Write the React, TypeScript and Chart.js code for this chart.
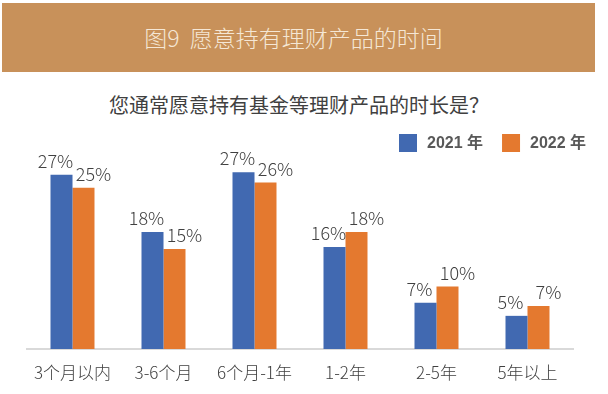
import React, { useEffect, useRef } from "react";
import { Chart, registerables } from "chart.js";

Chart.register(...registerables);

const headerTitle = "图9  愿意持有理财产品的时间";
const subTitle = "您通常愿意持有基金等理财产品的时长是？";
const categories = ["3个月以内", "3-6个月", "6个月-1年", "1-2年", "2-5年", "5年以上"];
const seriesNames = ["2021 年", "2022 年"];
const values2021 = [26.8, 18.0, 27.2, 15.7, 7.1, 5.1];
const values2022 = [24.8, 15.4, 25.6, 18.0, 9.6, 6.6];
const seriesColors = ["#4169B1", "#E4792F"];

const CJK = "'Noto Sans CJK SC', 'Noto Sans', sans-serif";

const labelPlugin = {
  id: "barLabels",
  afterDatasetsDraw(chart: any) {
    const ctx = chart.ctx;
    ctx.save();
    ctx.font = `300 18px ${CJK}`;
    ctx.fillStyle = "#404040";
    ctx.textAlign = "center";
    ctx.textBaseline = "alphabetic";
    const shifts = [-6, 10];
    chart.data.datasets.forEach((ds: any, di: number) => {
      const meta = chart.getDatasetMeta(di);
      meta.data.forEach((el: any, i: number) => {
        const v = ds.data[i];
        ctx.fillText(Math.round(v) + "%", el.x + shifts[di], el.y - 7);
      });
    });
    ctx.restore();
  },
};

const legendPlugin = {
  id: "customLegend",
  afterDraw(chart: any) {
    const ctx = chart.ctx;
    ctx.save();
    ctx.font = `bold 16px 'Liberation Sans', ${CJK}`;
    ctx.textBaseline = "middle";
    ctx.textAlign = "left";
    let x = chart.chartArea.right - 174;
    const top = 134;
    chart.data.datasets.forEach((ds: any) => {
      ctx.fillStyle = ds.backgroundColor;
      ctx.fillRect(x, top, 18, 18);
      x += 28;
      ctx.fillStyle = "#595959";
      ctx.fillText(ds.label, x, top + 10);
      x += ctx.measureText(ds.label).width + 19;
    });
    ctx.restore();
  },
};

export default function App() {
  const ref = useRef<HTMLCanvasElement>(null);
  useEffect(() => {
    if (!ref.current) return;
    const chart = new Chart(ref.current, {
      type: "bar",
      data: {
        labels: categories,
        datasets: [
          { label: seriesNames[0], data: values2021, backgroundColor: seriesColors[0] },
          { label: seriesNames[1], data: values2022, backgroundColor: seriesColors[1] },
        ],
      },
      options: {
        animation: false,
        responsive: false,
        events: [],
        datasets: { bar: { barPercentage: 1, categoryPercentage: 0.4835 } },
        layout: { padding: { left: 27, right: 35, top: 154, bottom: -2.4 } },
        plugins: { legend: { display: false }, tooltip: { enabled: false }, title: { display: false } },
        scales: {
          x: {
            offset: true,
            grid: { display: false, drawTicks: false },
            border: { display: true, color: "#D9D9D9", width: 2 },
            ticks: {
              color: "#404040",
              font: { family: CJK, size: 17, weight: "300" },
              padding: 13.5,
              maxRotation: 0,
              autoSkip: false,
            },
          },
          y: { display: false, min: 0, max: 30 },
        },
      },
      plugins: [labelPlugin, legendPlugin],
    });
    return () => chart.destroy();
  }, []);

  return (
    <div style={{ position: "fixed", left: 0, top: 0, width: 608, height: 394, background: "#fff" }}>
      <div
        style={{
          position: "absolute",
          left: 2,
          top: 3,
          width: 593,
          height: 69,
          background: "#C8915A",
          color: "#F5E7D5",
          fontFamily: CJK,
          fontWeight: 300,
          fontSize: 23,
          lineHeight: "69px",
          textAlign: "center",
          paddingRight: 10,
          boxSizing: "border-box",
          whiteSpace: "pre",
        }}
      >
        {headerTitle}
      </div>
      <div
        style={{
          position: "absolute",
          left: 0,
          top: 90,
          width: 608,
          paddingRight: 10,
          boxSizing: "border-box",
          textAlign: "center",
          fontFamily: CJK,
          fontSize: 20,
          lineHeight: "30px",
          color: "#404040",
        }}
      >
        {subTitle}
      </div>
      <canvas ref={ref} width={608} height={394} style={{ position: "absolute", left: 0, top: 0, width: 608, height: 394 }} />
    </div>
  );
}
